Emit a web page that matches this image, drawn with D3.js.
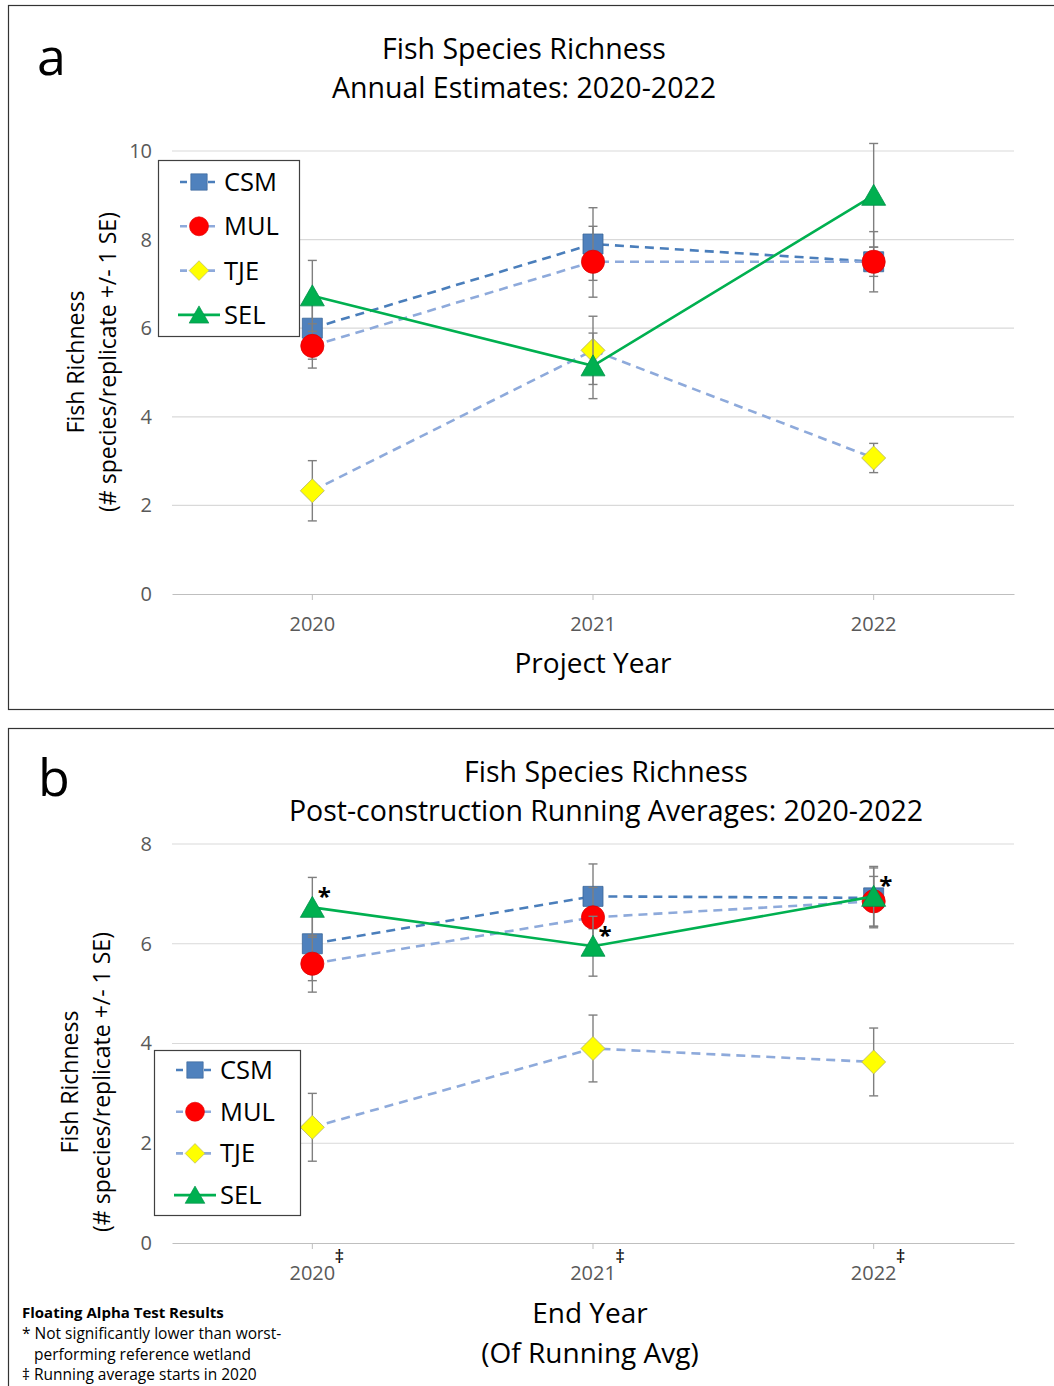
<!DOCTYPE html>
<html>
<head>
<meta charset="utf-8">
<script src="https://cdn.jsdelivr.net/npm/d3@7"></script>
<style>
  body { margin: 0; background: #fff; }
  svg { display: block; font-family: "Open Sans", "Noto Sans", sans-serif; }
</style>
</head>
<body>
<svg id="chart" width="1054" height="1386"></svg>
<script>
// categories
const years = ["2020", "2021", "2022"];
const seriesNames = ["CSM", "MUL", "TJE", "SEL"];

// panel a: annual estimates (mean, +/- 1 SE)
const annualCSM = [6.0, 7.9, 7.5];
const annualMUL = [5.6, 7.5, 7.5];
const annualTJE = [2.33, 5.5, 3.07];
const annualSEL = [6.73, 5.15, 9.0];
const annualCSMse = [0.7, 0.82, 0.68];
const annualMULse = [0.5, 0.8, 0.33];
const annualTJEse = [0.68, 0.77, 0.33];
const annualSELse = [0.8, 0.74, 1.17];

// panel b: running averages (mean, +/- 1 SE)
const runCSM = [6.0, 6.95, 6.92];
const runMUL = [5.6, 6.53, 6.85];
const runTJE = [2.32, 3.9, 3.63];
const runSEL = [6.73, 5.95, 6.95];
const runCSMse = [0.74, 0.65, 0.6];
const runMULse = [0.57, 0.6, 0.5];
const runTJEse = [0.68, 0.67, 0.68];
const runSELse = [0.6, 0.6, 0.6];
// "*" = not significantly lower than worst-performing reference wetland
const runSELstar = [true, true, true];
// "‡" = running average starts in 2020
const runStartFlag = [true, true, true];

const yTicksA = [0, 2, 4, 6, 8, 10];
const yTicksB = [0, 2, 4, 6, 8];

const styles = {
  CSM: { line: "#4a7ebb", dash: "9,6", fill: "#4f81bd", stroke: "#3a6698", shape: "square" },
  MUL: { line: "#8eaadb", dash: "9,6", fill: "#ff0000", stroke: "#e00000", shape: "circle" },
  TJE: { line: "#8eaadb", dash: "9,6", fill: "#ffff00", stroke: "#b0b070", shape: "diamond" },
  SEL: { line: "#00b050", dash: null, fill: "#00b050", stroke: "#00904a", shape: "triangle" }
};

const svg = d3.select("#chart");

function markerPath(shape) {
  if (shape === "square") return "M-10,-10H10V10H-10Z";
  if (shape === "circle") return d3.symbol(d3.symbolCircle, 420)();
  if (shape === "diamond") return "M0,-12L12,0L0,12L-12,0Z";
  return "M0,-11L12,10L-12,10Z";
}

function drawPanel(p) {
  const g = svg.append("g");

  // panel frame
  g.append("rect")
    .attr("x", p.frame[0] + 0.5).attr("y", p.frame[1] + 0.5)
    .attr("width", p.frame[2]).attr("height", p.frame[3])
    .attr("fill", "none").attr("stroke", "#333").attr("stroke-width", 1.2);

  g.append("text").attr("x", p.letter[0]).attr("y", p.letter[1])
    .attr("font-size", 52).attr("fill", "#000").text(p.letterText);

  p.titles.forEach((t, i) => {
    g.append("text").attr("x", p.titleX).attr("y", p.titleY + i * 39)
      .attr("text-anchor", "middle").attr("font-size", 28.5).attr("fill", "#000").text(t);
  });

  const x = d3.scaleBand().domain(years).range([172, 1014]);
  const y = d3.scaleLinear().domain([0, p.yMax]).range([p.y0, p.yTop]);
  const cx = d => x(d) + x.bandwidth() / 2;

  // gridlines
  g.append("g").selectAll("line").data(p.yTicks.filter(v => v > 0)).join("line")
    .attr("x1", 172).attr("x2", 1014).attr("y1", d => y(d)).attr("y2", d => y(d))
    .attr("stroke", "#d9d9d9").attr("stroke-width", 1.2);

  // y axis labels
  const yAxis = g.append("g").attr("transform", "translate(152,0)")
    .call(d3.axisLeft(y).tickValues(p.yTicks).tickSize(0).tickPadding(0).tickFormat(d3.format("d")));
  yAxis.select(".domain").remove();
  yAxis.selectAll("text").attr("font-size", 20).attr("fill", "#595959")
    .attr("font-family", "'Open Sans', sans-serif");

  // x axis
  const xAxis = g.append("g").attr("transform", `translate(0,${p.y0})`)
    .call(d3.axisBottom(x).tickSizeInner(6).tickSizeOuter(0).tickPadding(17));
  xAxis.select(".domain").attr("stroke", "#bfbfbf").attr("stroke-width", 1.2);
  xAxis.selectAll(".tick line").attr("stroke", "#bfbfbf");
  xAxis.selectAll("text").attr("font-size", 20).attr("fill", "#595959")
    .attr("font-family", "'Open Sans', sans-serif");

  if (p.startFlag) {
    g.append("g").selectAll("text").data(years.filter((d, i) => p.startFlag[i])).join("text")
      .attr("x", d => cx(d) + 27).attr("y", p.y0 + 20)
      .attr("text-anchor", "middle").attr("font-size", 19).attr("fill", "#000").text("‡");
  }

  // axis titles
  p.xTitle.forEach((t, i) => {
    g.append("text").attr("x", p.xTitleX).attr("y", p.xTitleY + i * 40)
      .attr("text-anchor", "middle").attr("font-size", 28).attr("fill", "#000").text(t);
  });
  p.yTitle.forEach((t, i) => {
    g.append("text")
      .attr("transform", `translate(${p.yTitleX + i * 32},${p.yTitleMid}) rotate(-90)`)
      .attr("text-anchor", "middle").attr("font-size", 23).attr("fill", "#000").text(t);
  });

  // series
  p.series.forEach(s => {
    const st = styles[s.name];
    const pts = years.map((yr, i) => ({ x: cx(yr), v: s.values[i], se: s.se[i] }));
    const line = d3.line().x(d => d.x).y(d => y(d.v));
    g.append("path").datum(pts).attr("d", line)
      .attr("fill", "none").attr("stroke", st.line).attr("stroke-width", 2.6)
      .attr("stroke-dasharray", st.dash);

    const eb = g.append("g").selectAll("g").data(pts).join("g").attr("stroke", "#7f7f7f").attr("stroke-width", 1.4);
    eb.append("line").attr("x1", d => d.x).attr("x2", d => d.x)
      .attr("y1", d => y(d.v + d.se)).attr("y2", d => y(d.v - d.se));
    eb.append("line").attr("x1", d => d.x - 4.5).attr("x2", d => d.x + 4.5)
      .attr("y1", d => y(d.v + d.se)).attr("y2", d => y(d.v + d.se));
    eb.append("line").attr("x1", d => d.x - 4.5).attr("x2", d => d.x + 4.5)
      .attr("y1", d => y(d.v - d.se)).attr("y2", d => y(d.v - d.se));

    g.append("g").selectAll("path").data(pts).join("path")
      .attr("d", markerPath(st.shape))
      .attr("transform", d => `translate(${d.x},${y(d.v)})`)
      .attr("fill", st.fill).attr("stroke", st.stroke).attr("stroke-width", 0.8);

    if (s.star) {
      g.append("g").selectAll("text").data(pts.filter((d, i) => s.star[i])).join("text")
        .attr("x", d => d.x + 12).attr("y", d => y(d.v) - 2)
        .attr("text-anchor", "middle").attr("font-size", 24).attr("font-weight", "bold")
        .attr("fill", "#000").text("*");
    }
  });

  // legend
  const lg = g.append("g").attr("transform", `translate(${p.legend[0]},${p.legend[1]})`);
  lg.append("rect").attr("x", 0.5).attr("y", 0.5).attr("width", p.legend[2]).attr("height", p.legend[3])
    .attr("fill", "#fff").attr("stroke", "#404040").attr("stroke-width", 1.2);
  seriesNames.forEach((n, i) => {
    const st = styles[n];
    const ey = p.legendY0 + i * p.legendStep;
    lg.append("line").attr("x1", 20).attr("x2", 62).attr("y1", ey).attr("y2", ey)
      .attr("stroke", st.line).attr("stroke-width", 2.6)
      .attr("stroke-dasharray", st.dash ? "7,7" : null).attr("stroke-dashoffset", st.dash ? -2 : null);
    lg.append("path").attr("d", markerPath(st.shape))
      .attr("transform", `translate(41,${ey}) scale(0.82)`)
      .attr("fill", st.fill).attr("stroke", st.stroke).attr("stroke-width", 0.8);
    lg.append("text").attr("x", 66).attr("y", ey).attr("dy", "0.35em")
      .attr("font-size", 25.5).attr("fill", "#000").text(n);
  });
}

drawPanel({
  frame: [8, 5, 1060, 704],
  letter: [37, 75], letterText: "a",
  titles: ["Fish Species Richness", "Annual Estimates: 2020-2022"],
  titleX: 524, titleY: 59,
  yMax: 10, y0: 594, yTop: 151, yTicks: yTicksA,
  xTitle: ["Project Year"], xTitleX: 593, xTitleY: 673,
  yTitle: ["Fish Richness", "(# species/replicate +/- 1 SE)"], yTitleX: 84, yTitleMid: 362,
  legend: [158, 160, 141, 176], legendY0: 22, legendStep: 44.3,
  series: [
    { name: "CSM", values: annualCSM, se: annualCSMse },
    { name: "MUL", values: annualMUL, se: annualMULse },
    { name: "TJE", values: annualTJE, se: annualTJEse },
    { name: "SEL", values: annualSEL, se: annualSELse }
  ]
});

drawPanel({
  frame: [8, 728, 1060, 700],
  letter: [38, 796], letterText: "b",
  titles: ["Fish Species Richness", "Post-construction Running Averages: 2020-2022"],
  titleX: 606, titleY: 782,
  yMax: 8, y0: 1243, yTop: 844, yTicks: yTicksB,
  xTitle: ["End Year", "(Of Running Avg)"], xTitleX: 590, xTitleY: 1323,
  yTitle: ["Fish Richness", "(# species/replicate +/- 1 SE)"], yTitleX: 78, yTitleMid: 1082,
  legend: [154, 1050, 146, 165], legendY0: 20, legendStep: 41.7,
  startFlag: runStartFlag,
  series: [
    { name: "CSM", values: runCSM, se: runCSMse },
    { name: "MUL", values: runMUL, se: runMULse },
    { name: "TJE", values: runTJE, se: runTJEse },
    { name: "SEL", values: runSEL, se: runSELse, star: runSELstar }
  ]
});

// footnote
const notes = svg.append("g").attr("font-size", 15.5).attr("fill", "#000");
notes.append("text").attr("x", 22).attr("y", 1318).attr("font-weight", "bold").attr("font-size", 15).text("Floating Alpha Test Results");
notes.append("text").attr("x", 22).attr("y", 1339).text("* Not significantly lower than worst-");
notes.append("text").attr("x", 34).attr("y", 1360).text("performing reference wetland");
notes.append("text").attr("x", 22).attr("y", 1380).text("‡ Running average starts in 2020");
</script>
</body>
</html>
